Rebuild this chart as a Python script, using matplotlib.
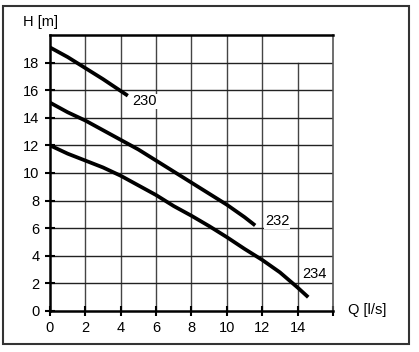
import matplotlib.pyplot as plt
import matplotlib.patches as patches
import numpy as np

plt.rcParams['font.family'] = ['Liberation Sans', 'DejaVu Sans']

# pump curves
q_230 = [0, 1, 2, 3, 4.4]
h_230 = [19.1, 18.4, 17.6, 16.8, 15.6]

q_232 = [0, 1, 2, 3, 4, 5, 6, 7, 8, 9, 10, 11, 11.6]
h_232 = [15.1, 14.4, 13.8, 13.1, 12.4, 11.7, 10.9, 10.1, 9.3, 8.5, 7.7, 6.8, 6.2]

q_234 = [0, 1, 2, 3, 4, 5, 6, 7, 8, 9, 10, 11, 12, 13, 14, 14.6]
h_234 = [12.0, 11.4, 10.9, 10.4, 9.8, 9.1, 8.4, 7.6, 6.9, 6.15, 5.35, 4.5, 3.7, 2.8, 1.7, 1.0]

curve_labels = ['230', '232', '234']
label_pos = [(5.35, 15.2), (12.85, 6.5), (14.95, 2.65)]

x_ticks = [0, 2, 4, 6, 8, 10, 12, 14, 16]
x_labels = ['0', '2', '4', '6', '8', '10', '12', '14', '']
y_ticks = [0, 2, 4, 6, 8, 10, 12, 14, 16, 18]

fig = plt.figure(figsize=(4.19, 3.52), dpi=100)
ax = fig.add_axes([0.1193, 0.1165, 0.6754, 0.7841])
ax.set_xlim(0, 16)
ax.set_ylim(0, 20)

# outer frame
frame = patches.Rectangle((0.008, 0.022), 0.968, 0.962, transform=fig.transFigure,
                          fill=False, edgecolor='#333333', linewidth=1.5)
fig.patches.append(frame)

# grid (line at 14 stops at 18)
for x in x_ticks[1:-1]:
    top = 18 if x == 14 else 20
    ax.plot([x, x], [0, top], color='#444444', linewidth=1.0, zorder=1)
for y in y_ticks[1:]:
    ax.plot([0, 16], [y, y], color='#222222', linewidth=1.0, zorder=1)

for q, h in [(q_230, h_230), (q_232, h_232), (q_234, h_234)]:
    ax.plot(q, h, color='black', linewidth=2.7, solid_capstyle='butt', zorder=3)

for lab, (x, y) in zip(curve_labels, label_pos):
    ax.text(x, y, lab, ha='center', va='center', fontsize=10.5, zorder=4,
            bbox=dict(facecolor='white', edgecolor='none', pad=0.5))

for side in ['left', 'bottom', 'top']:
    ax.spines[side].set_linewidth(1.8)
ax.spines['right'].set_linewidth(1.2)
ax.spines['right'].set_color('#555555')

ax.set_xticks(x_ticks)
ax.set_xticklabels(x_labels)
ax.set_yticks(y_ticks)
ax.tick_params(direction='inout', length=7, width=1.5, labelsize=10.5, pad=4)

fig.text(40 / 419, 1 - 22 / 352, 'H [m]', ha='center', va='center', fontsize=10.5)
fig.text(367 / 419, 1 - 310 / 352, 'Q [l/s]', ha='center', va='center', fontsize=10.5)

plt.savefig('out.png', dpi=100)
